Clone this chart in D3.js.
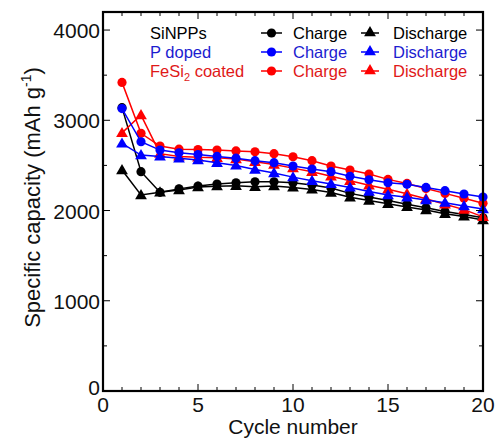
<!DOCTYPE html>
<html><head><meta charset="utf-8">
<script src="https://cdn.jsdelivr.net/npm/d3@7"></script>
<style>body{margin:0;background:#fff}svg{display:block}text{font-family:Arial,"Liberation Sans",sans-serif}</style>
</head><body><svg id="c" width="495" height="441"></svg>
<script>
const cycles = [1,2,3,4,5,6,7,8,9,10,11,12,13,14,15,16,17,18,19,20];
const siCharge    = [3140,2430,2202,2240,2271,2293,2308,2319,2319,2308,2283,2250,2190,2150,2110,2070,2030,1990,1955,1920];
const siDischarge = [2449,2172,2202,2227,2260,2270,2275,2264,2271,2256,2234,2200,2146,2110,2075,2040,2005,1965,1935,1895];
const pCharge     = [3130,2762,2670,2640,2620,2600,2580,2552,2530,2493,2460,2430,2380,2340,2308,2290,2256,2220,2183,2150];
const pDischarge  = [2744,2615,2600,2580,2560,2530,2500,2455,2415,2370,2330,2295,2256,2210,2172,2146,2117,2087,2050,2017];
const feCharge    = [3420,2855,2715,2680,2675,2670,2660,2650,2630,2596,2552,2493,2449,2404,2345,2300,2245,2190,2135,2080];
const feDischarge = [2860,3058,2630,2600,2590,2585,2570,2540,2510,2470,2430,2380,2330,2280,2235,2185,2130,2070,2010,1930];
const xTicks = [0,5,10,15,20];
const yTicks = [0,1000,2000,3000,4000];
const seriesNames = ["SiNPPs","P doped","FeSi2 coated"];
const colors = ["#000000","#0000ff","#ff0000"];
const textColors = ["#000000","#1c1cd0","#e01818"];

const svg = d3.select("#c");
const L=103,R=483,T=12,B=391;
const x = d3.scaleLinear().domain([0,20]).range([L,R]);
const y = d3.scaleLinear().domain([0,4200]).range([B,T]);

const series = [
  {data:siCharge, c:colors[0], m:"circle"},
  {data:siDischarge, c:colors[0], m:"tri"},
  {data:feCharge, c:colors[2], m:"circle"},
  {data:feDischarge, c:colors[2], m:"tri"},
  {data:pCharge, c:colors[1], m:"circle"},
  {data:pDischarge, c:colors[1], m:"tri"}
];
const tri = d3.symbol().type(d3.symbolTriangle).size(60);
const line = d3.line().x((d,i)=>x(cycles[i])).y(d=>y(d));
function marker(g, m, c, px, py){
  if(m==="circle") g.append("circle").attr("cx",px).attr("cy",py).attr("r",4.6).attr("fill",c);
  else g.append("path").attr("d",tri()).attr("transform",`translate(${px},${py+0.8})`).attr("fill",c);
}
series.forEach(s=>{
  const g=svg.append("g");
  g.append("path").attr("d",line(s.data)).attr("fill","none").attr("stroke",s.c).attr("stroke-width",1.5);
  s.data.forEach((d,i)=>marker(g,s.m,s.c,x(cycles[i]),y(d)));
});

const ax = svg.append("g");
const xMinor = d3.range(0,21,1), yMinor = d3.range(0,4201,500);
xMinor.forEach(v=>{
  const len = xTicks.includes(v)?7:4;
  ax.append("line").attr("x1",x(v)).attr("x2",x(v)).attr("y1",B).attr("y2",B-len).attr("stroke","#000").attr("stroke-width",1);
  ax.append("line").attr("x1",x(v)).attr("x2",x(v)).attr("y1",T).attr("y2",T+len).attr("stroke","#000").attr("stroke-width",1);
});
yMinor.forEach(v=>{
  const len = yTicks.includes(v)?7:4;
  ax.append("line").attr("x1",L).attr("x2",L+len).attr("y1",y(v)).attr("y2",y(v)).attr("stroke","#000").attr("stroke-width",1);
  ax.append("line").attr("x1",R).attr("x2",R-len).attr("y1",y(v)).attr("y2",y(v)).attr("stroke","#000").attr("stroke-width",1);
});
ax.append("rect").attr("x",L).attr("y",T).attr("width",R-L).attr("height",B-T).attr("fill","none").attr("stroke","#000").attr("stroke-width",2.2);

xTicks.forEach(v=>ax.append("text").attr("x",x(v)).attr("y",B+21).attr("text-anchor","middle").attr("font-size",21).attr("fill","#111").text(v));
yTicks.forEach(v=>ax.append("text").attr("x",L-3).attr("y",y(v)+(v===0?4:8)).attr("text-anchor","end").attr("font-size",21).attr("fill","#111").text(v));

svg.append("text").attr("x",(L+R)/2).attr("y",434).attr("text-anchor","middle").attr("font-size",21).attr("fill","#111").text("Cycle number");
const yl = svg.append("text").attr("transform",`translate(40,${(T+B)/2-4}) rotate(-90)`).attr("text-anchor","middle").attr("font-size",22).attr("fill","#111");
yl.append("tspan").text("Specific capacity (mAh g");
yl.append("tspan").attr("dy",-9).attr("font-size",14).text("-1");
yl.append("tspan").attr("dy",9).text(")");

const rows=[39,58,77];
seriesNames.forEach((n,i)=>{
  const c=colors[i], tc=textColors[i], yy=rows[i];
  const t=svg.append("text").attr("x",150).attr("y",yy).attr("font-size",16.5).attr("fill",tc);
  if(n==="FeSi2 coated"){
    t.append("tspan").text("FeSi");
    t.append("tspan").attr("dy",4).attr("font-size",11).text("2");
    t.append("tspan").attr("dy",-4).text(" coated");
  } else t.text(n);
  svg.append("line").attr("x1",261).attr("x2",282).attr("y1",yy-6).attr("y2",yy-6).attr("stroke",c).attr("stroke-width",1.5);
  marker(svg,"circle",c,271.5,yy-6);
  svg.append("text").attr("x",293).attr("y",yy).attr("font-size",16.5).attr("fill",tc).text("Charge");
  svg.append("line").attr("x1",361).attr("x2",379).attr("y1",yy-6).attr("y2",yy-6).attr("stroke",c).attr("stroke-width",1.5);
  marker(svg,"tri",c,370,yy-7);
  svg.append("text").attr("x",393).attr("y",yy).attr("font-size",16.5).attr("fill",tc).text("Discharge");
});
</script></body></html>
